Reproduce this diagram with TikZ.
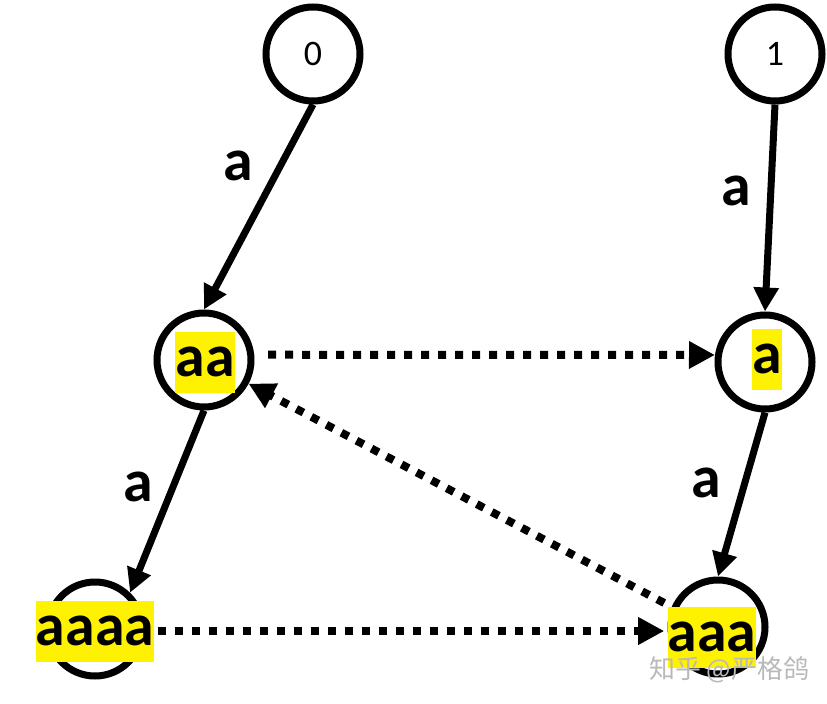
\documentclass[tikz,border=0pt]{standalone}
\usepackage{fontspec}
\setmainfont{Carlito}
\newfontfamily\wmfont{Noto Sans CJK SC}
\usetikzlibrary{arrows.meta}

\begin{document}
\begin{tikzpicture}[x=1bp,y=-1bp,line width=7bp,
  >={Triangle[length=24bp,width=24bp]},
  st/.style={circle,draw,line width=7bp,minimum size=94bp,inner sep=0pt},
  hl/.style={fill=yellow,inner sep=0pt,minimum height=61bp,
    font=\fontsize{60}{60}\selectfont\bfseries},
  lab/.style={inner sep=0pt,font=\fontsize{60}{60}\selectfont\bfseries},
  suf/.style={line width=8bp,dash pattern=on 8bp off 9bp,
    -{Triangle[length=26bp,width=26bp]}}]
  \useasboundingbox (0,0) rectangle (827,704);
  % states: two roots, then the suffix nodes.
  \node[st,font=\fontsize{36}{36}\selectfont] (s0) at (313,54) {0};
  \node[st,font=\fontsize{36}{36}\selectfont] (s1) at (775,54) {1};
  \node[st] (saa) at (204,360) {};
  \node[st] (sa) at (765,362) {};
  \node[st] (saaaa) at (95,629) {};
  \node[st] (saaa) at (718,627) {};
  % highlighted strings on top of the circles.
  \node[hl] (taa) at (205,362) {aa};
  \node[hl] (ta) at (767,359) {a};
  \node[hl] (taaaa) at (95,631) {aaaa};
  \node[hl] (taaa) at (712,637) {aaa};
  % solid transitions.
  \draw[->] (s0.south) -- node[lab,pos=0.3,left=24bp] {a} (saa.north);
  \draw[->] (s1.south) -- node[lab,pos=0.42,left=16bp] {a} (sa.north);
  \draw[->] (saa.south) -- node[lab,pos=0.42,left=16bp] {a} (saaaa.46);
  \draw[->] (sa.south) -- node[lab,pos=0.43,left=20bp] {a} (saaa.north);
  % dotted suffix links.
  \draw[suf,shorten <=14bp] (saa.6) -- (sa.172);
  \draw[suf] (taaaa.east) -- (taaaa.east -| taaa.west);
  \draw[suf] (taaa.north west) -- (saa.-28);
  \node[text=gray!55,font=\wmfont\fontsize{26}{26}\selectfont] (wm) at (729,670) {知乎 @严格鸽};
\end{tikzpicture}
\end{document}
